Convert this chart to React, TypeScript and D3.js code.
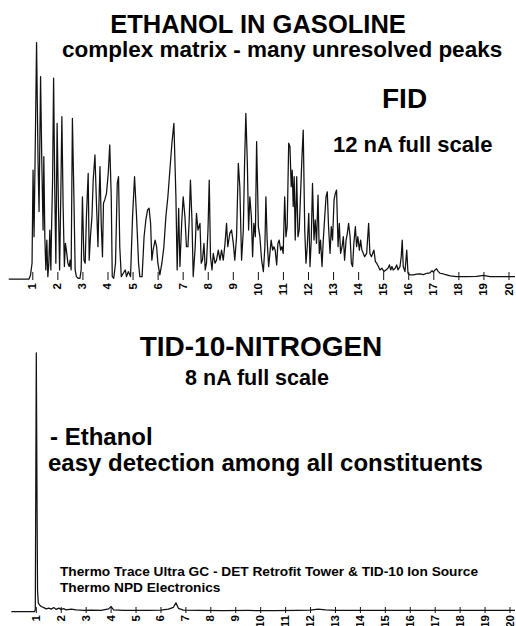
import React from "react";
import * as d3 from "d3";

// FID trace: [retention time (min), signal (% of 12 nA full scale)]
const fidTrace: [number, number][] = [
[0.04,0],[0.85,0],[0.91,1.7],[0.97,6.6],[1.01,45.6],[1.05,17.7],[1.11,65.1],[1.15,98.9],[1.21,48.4],[1.25,28.2],[1.31,84.7],[1.36,48.4],[1.41,20.5],[1.44,51.2],[1.48,17.7],[1.52,3.8],[1.56,16.3],[1.60,1.0],[1.64,6.6],[1.68,20.5],[1.72,3.8],[1.75,21.9],[1.79,41.4],[1.83,84.0],[1.88,34.4],[1.92,6.6],[1.97,65.1],[2.03,26.1],[2.07,3.8],[2.12,37.2],[2.16,67.9],[2.21,30.3],[2.26,5.2],[2.30,14.9],[2.34,12.1],[2.40,6.6],[2.45,5.2],[2.49,7.9],[2.53,3.8],[2.58,67.2],[2.64,34.4],[2.69,3.8],[2.74,1.0],[2.81,0.3],[2.88,0.3],[2.93,3.8],[2.98,34.4],[3.04,7.9],[3.09,6.6],[3.14,26.1],[3.21,44.2],[3.25,7.9],[3.30,17.7],[3.36,26.1],[3.41,41.4],[3.48,51.9],[3.54,31.7],[3.60,13.5],[3.64,31.7],[3.68,47.0],[3.73,23.3],[3.78,9.3],[3.82,31.7],[3.87,33.1],[3.94,35.8],[4.01,44.2],[4.07,56.1],[4.13,34.4],[4.17,1.0],[4.23,0.3],[4.30,6.6],[4.37,40.0],[4.42,42.8],[4.47,13.5],[4.53,1.0],[4.61,2.4],[4.69,3.8],[4.74,1.0],[4.81,3.1],[4.90,1.0],[4.98,26.1],[5.06,42.8],[5.14,26.1],[5.22,6.6],[5.27,1.0],[5.36,1.0],[5.44,17.7],[5.51,24.7],[5.58,28.9],[5.64,29.6],[5.70,23.3],[5.75,7.9],[5.80,12.1],[5.88,16.3],[5.94,13.5],[5.99,6.6],[6.07,1.7],[6.15,6.6],[6.23,13.5],[6.31,26.1],[6.39,34.4],[6.47,45.6],[6.55,56.8],[6.63,65.1],[6.71,34.4],[6.76,3.8],[6.82,29.6],[6.87,5.2],[6.94,23.3],[7.00,34.4],[7.07,26.1],[7.13,13.5],[7.19,13.5],[7.24,24.7],[7.29,41.4],[7.35,24.7],[7.40,1.0],[7.48,13.5],[7.53,27.5],[7.59,20.5],[7.67,23.3],[7.72,6.6],[7.77,7.9],[7.83,14.9],[7.88,3.8],[7.93,6.6],[7.99,20.5],[8.04,41.4],[8.09,9.3],[8.15,3.8],[8.20,10.7],[8.27,6.6],[8.33,7.9],[8.40,12.1],[8.47,7.9],[8.53,12.1],[8.60,7.9],[8.67,14.9],[8.73,23.3],[8.78,13.5],[8.86,19.1],[8.93,20.5],[9.00,14.9],[9.06,7.9],[9.13,17.7],[9.20,48.4],[9.26,38.6],[9.33,7.9],[9.40,20.5],[9.45,48.4],[9.50,69.3],[9.56,48.4],[9.61,20.5],[9.66,34.4],[9.72,26.1],[9.77,9.3],[9.82,23.3],[9.88,17.7],[9.93,57.5],[10.00,21.9],[10.06,17.7],[10.13,7.9],[10.20,3.1],[10.26,13.5],[10.30,34.4],[10.35,16.3],[10.41,5.2],[10.46,10.7],[10.51,16.3],[10.57,12.1],[10.62,13.5],[10.67,12.1],[10.73,5.9],[10.78,14.9],[10.83,16.3],[10.89,12.1],[10.94,13.5],[10.99,10.7],[11.05,34.4],[11.10,17.7],[11.15,21.9],[11.21,56.8],[11.26,55.4],[11.31,38.6],[11.35,45.6],[11.39,30.3],[11.43,42.8],[11.47,16.3],[11.53,42.8],[11.58,17.7],[11.63,20.5],[11.69,37.2],[11.74,51.2],[11.79,62.3],[11.85,20.5],[11.90,6.6],[11.95,13.5],[12.01,27.5],[12.06,5.2],[12.11,16.3],[12.16,40.0],[12.22,16.3],[12.27,24.7],[12.32,14.9],[12.38,35.1],[12.43,10.7],[12.48,16.3],[12.54,5.2],[12.59,16.3],[12.64,24.7],[12.70,34.4],[12.75,36.5],[12.80,21.9],[12.86,10.7],[12.91,21.9],[12.96,16.3],[13.02,33.1],[13.07,35.8],[13.12,37.2],[13.18,13.5],[13.23,23.3],[13.28,10.7],[13.34,13.5],[13.39,17.7],[13.44,7.9],[13.50,16.3],[13.55,19.1],[13.60,23.3],[13.66,17.7],[13.71,6.6],[13.76,5.2],[13.81,14.9],[13.87,21.9],[13.92,13.5],[13.97,17.7],[14.03,12.1],[14.08,16.3],[14.13,12.1],[14.19,10.7],[14.24,9.3],[14.32,10.7],[14.40,23.3],[14.45,10.7],[14.51,9.3],[14.56,10.7],[14.61,12.1],[14.67,7.3],[14.72,6.6],[14.79,5.2],[14.85,3.8],[14.93,4.5],[15.01,3.1],[15.09,3.8],[15.17,4.5],[15.23,5.9],[15.28,3.8],[15.33,5.2],[15.38,3.8],[15.46,4.5],[15.52,5.9],[15.57,3.8],[15.65,5.2],[15.70,9.3],[15.74,16.3],[15.78,5.2],[15.85,3.1],[15.92,12.1],[15.97,2.4],[16.05,1.7],[16.18,1.7],[16.32,2.0],[16.45,2.1],[16.58,1.8],[16.72,2.4],[16.85,2.6],[16.93,3.5],[16.98,2.9],[17.05,3.8],[17.11,4.3],[17.18,3.1],[17.25,2.4],[17.38,2.1],[17.51,1.7],[17.65,1.3],[17.91,1.0],[18.31,1.0],[18.71,1.1],[18.98,1.5],[19.24,1.0],[19.78,1.0],[20.24,1.0]
];

// TID-10 nitrogen trace: [retention time (min), signal (% of 8 nA full scale)]
const tidTrace: [number, number][] = [
[0.0,0],[0.92,0],[0.96,0.5],[1.0,98.9],[1.03,40],[1.05,8],[1.08,3.3],[1.14,2.4],[1.2,1.9],[1.3,1.5],[1.4,1.0],[1.5,1.3],[1.6,0.9],[1.7,1.5],[1.8,0.8],[1.9,1.3],[2.0,0.8],[2.1,1.1],[2.2,0.6],[2.4,0.9],[2.6,0.6],[2.9,0.4],[3.2,0.5],[3.6,0.4],[3.9,1.0],[4.0,1.9],[4.1,0.6],[4.5,0.4],[5.0,0.4],[5.5,0.4],[6.0,0.5],[6.3,0.9],[6.5,1.6],[6.6,3.3],[6.7,1.2],[6.9,0.5],[7.5,0.4],[8.5,0.3],[9.5,0.4],[10.5,0.3],[11.5,0.4],[12.0,0.5],[12.3,0.9],[12.6,0.6],[13.0,0.4],[14.0,0.4],[16.0,0.4],[18.0,0.4],[20.2,0.4]
];

const minuteTicks = d3.range(1, 21);

const FONT = "'Liberation Sans', Arial, Helvetica, sans-serif";

export default function App() {
  const xTop = d3.scaleLinear().domain([1, 20]).range([32.8, 509]);
  const yTop = d3.scaleLinear().domain([0, 100]).range([279, 40]);
  const xBot = d3.scaleLinear().domain([1, 20]).range([36.3, 510]);
  const yBot = d3.scaleLinear().domain([0, 100]).range([611.5, 350]);

  const topLine = d3.line<[number, number]>().x(d => xTop(d[0])).y(d => yTop(d[1]));
  const botLine = d3.line<[number, number]>().x(d => xBot(d[0])).y(d => yBot(d[1]));

  const txt = (x: number, y: number, s: string, size: number, anchor = "start") => (
    <text x={x} y={y} fontFamily={FONT} fontWeight="bold" fontSize={size} textAnchor={anchor} fill="#000">{s}</text>
  );

  return (
    <svg width={516} height={626} style={{ position: "absolute", left: 0, top: 0, background: "#fff" }}>
      <rect width={516} height={626} fill="#fff" />
      {/* top chart */}
      <path d={topLine(fidTrace) || ""} fill="none" stroke="#111" strokeWidth={1.25} strokeLinejoin="round" />
      {minuteTicks.map(t => (
        <g key={"tt" + t}>
          <line x1={xTop(t)} x2={xTop(t)} y1={272} y2={280} stroke="#111" strokeWidth={1} />
          <text transform={`translate(${xTop(t) + 3.5},283) rotate(-90)`} fontFamily={FONT} fontWeight="bold" fontSize={11.5} textAnchor="end" fill="#000">{t}</text>
        </g>
      ))}
      {/* bottom chart */}
      <path d={botLine(tidTrace) || ""} fill="none" stroke="#111" strokeWidth={1.25} strokeLinejoin="round" />
      {minuteTicks.map(t => (
        <g key={"bt" + t}>
          <line x1={xBot(t)} x2={xBot(t)} y1={607} y2={613} stroke="#111" strokeWidth={1} />
          <text transform={`translate(${xBot(t) + 3.5},615) rotate(-90)`} fontFamily={FONT} fontWeight="bold" fontSize={11.5} textAnchor="end" fill="#000">{t}</text>
        </g>
      ))}
      {txt(258, 33, "ETHANOL IN GASOLINE", 25.5, "middle")}
      {txt(62, 57, "complex matrix - many unresolved peaks", 22.5)}
      {txt(382, 108, "FID", 28)}
      {txt(333, 152, "12 nA full scale", 22)}
      {txt(261, 356, "TID-10-NITROGEN", 28, "middle")}
      {txt(257, 385, "8 nA full scale", 21.5, "middle")}
      {txt(50, 445, "- Ethanol", 24)}
      {txt(48, 471, "easy detection among all constituents", 24)}
      {txt(60, 576, "Thermo Trace Ultra GC - DET Retrofit Tower & TID-10 Ion Source", 13.7)}
      {txt(60, 592, "Thermo NPD Electronics", 13.7)}
    </svg>
  );
}
